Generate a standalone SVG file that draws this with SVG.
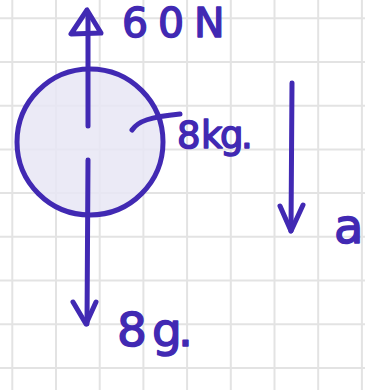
<svg xmlns="http://www.w3.org/2000/svg" width="365" height="390" viewBox="0 0 365 390">
<defs>
<style>
.grid line{stroke:#e3e3e3;stroke-width:2}
.ink{stroke:#4129b3;stroke-width:5;fill:none;stroke-linecap:round;stroke-linejoin:round}
.lbl{font-family:"DejaVu Sans",sans-serif;fill:#4129b3;stroke:#4129b3;stroke-width:1.5;stroke-linejoin:round}
</style>
</defs>
<rect width="365" height="390" fill="#ffffff"/>
<g class="grid">
<line x1="12.3" y1="0" x2="12.3" y2="390"/>
<line x1="56" y1="0" x2="56" y2="390"/>
<line x1="99.7" y1="0" x2="99.7" y2="390"/>
<line x1="143.4" y1="0" x2="143.4" y2="390"/>
<line x1="187.1" y1="0" x2="187.1" y2="390"/>
<line x1="230.8" y1="0" x2="230.8" y2="390"/>
<line x1="274.5" y1="0" x2="274.5" y2="390"/>
<line x1="318.2" y1="0" x2="318.2" y2="390"/>
<line x1="361.9" y1="0" x2="361.9" y2="390"/>
<line x1="0" y1="18.3" x2="365" y2="18.3"/>
<line x1="0" y1="62" x2="365" y2="62"/>
<line x1="0" y1="105.7" x2="365" y2="105.7"/>
<line x1="0" y1="149.4" x2="365" y2="149.4"/>
<line x1="0" y1="193.1" x2="365" y2="193.1"/>
<line x1="0" y1="236.8" x2="365" y2="236.8"/>
<line x1="0" y1="280.5" x2="365" y2="280.5"/>
<line x1="0" y1="324.2" x2="365" y2="324.2"/>
<line x1="0" y1="367.9" x2="365" y2="367.9"/>
</g>
<g id="mass">
<circle cx="90" cy="142" r="73" fill="#e8e6f4" fill-opacity="0.85" stroke="#4129b3" stroke-width="5"/>
</g>
<g id="connectors">
<g id="force-up">
<path class="ink" d="M88,126 L88,14"/>
<path class="ink" d="M87,10 L71,34 L101,33 Z"/>
</g>
<g id="force-down">
<path class="ink" d="M88,160 L87,324"/>
<path class="ink" d="M73,302 L86,324 L96,302"/>
</g>
<g id="accel">
<path class="ink" d="M292,83 L291,231"/>
<path class="ink" d="M280,206 L291,231 L303,205"/>
</g>
<g id="leader">
<path class="ink" d="M132,130 C138,121 150,117 180,114"/>
</g>
</g>
<g id="label-60N">
<text class="lbl" x="122 158 194" y="37" font-size="41">60N</text>
</g>
<g id="label-8kg">
<text class="lbl" x="177 201 220 241" y="148" font-size="37">8kg.</text>
</g>
<g id="label-a">
<text class="lbl" x="334" y="243" font-size="48">a</text>
</g>
<g id="label-8g">
<text class="lbl" x="117 152 178" y="346" font-size="47">8g.</text>
</g>
</svg>
